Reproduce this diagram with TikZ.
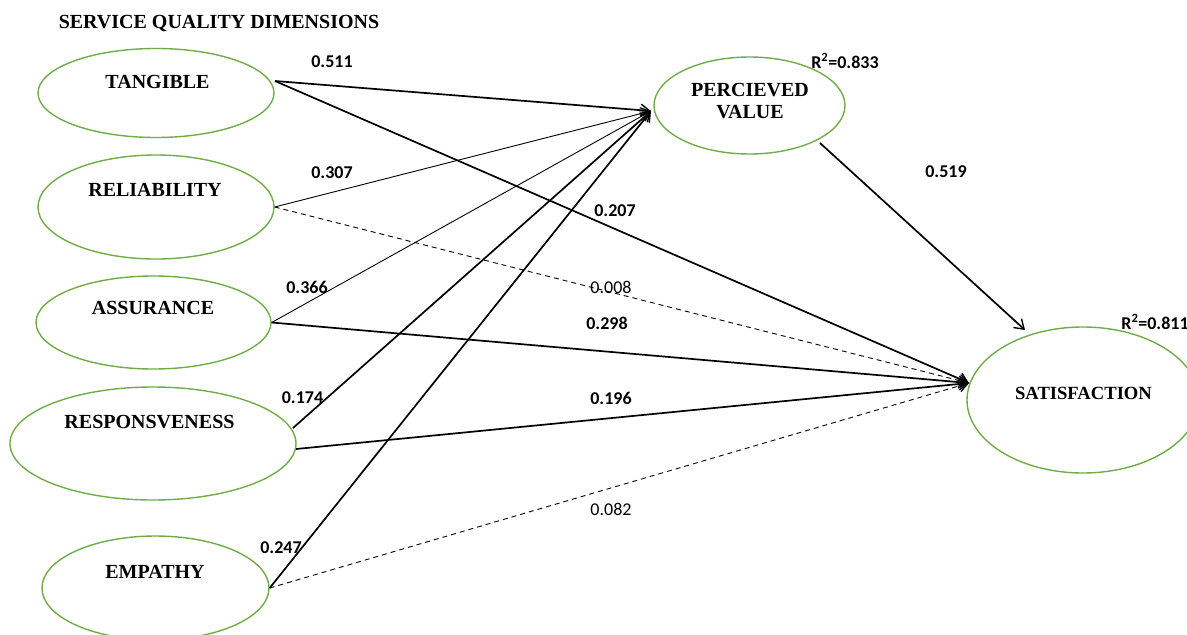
\documentclass[tikz,border=0pt]{standalone}
\usepackage{fontspec}
\setmainfont{Liberation Serif}
\newfontfamily\calib{Carlito}
\usetikzlibrary{shapes.geometric,arrows.meta}
\begin{document}
\begin{tikzpicture}[x=1pt,y=-1pt,
  latent/.style={ellipse,draw={rgb,255:red,112;green,173;blue,71},line width=1.4pt,inner sep=0pt},
  lbl/.style={font=\fontsize{20}{22}\selectfont\bfseries,inner sep=0pt,anchor=center},
  coef/.style={font=\calib\fontsize{18}{20}\selectfont\bfseries,inner sep=0pt,anchor=center},
  coefn/.style={font=\calib\fontsize{18}{20}\selectfont,inner sep=0pt,anchor=center},
  path1/.style={line width=1.7pt,-{Straight Barb[length=9pt,width=12pt,line width=1.4pt]}},
  path2/.style={line width=0.9pt,-{Straight Barb[length=9pt,width=12pt,line width=1.2pt]}},
  path3/.style={line width=0.9pt,dash pattern=on 5pt off 4pt,-{Straight Barb[length=9pt,width=12pt,line width=1.2pt]}}]
\useasboundingbox (0,0) rectangle (1187,635);
\fill[white] (0,0) rectangle (1187,635);
% ellipses
\node[latent,minimum width=236pt,minimum height=89pt] (tan) at (156,93) {};
\node[latent,minimum width=236pt,minimum height=104pt] (rel) at (156,207) {};
\node[latent,minimum width=235pt,minimum height=93pt] (ass) at (153.5,322.5) {};
\node[latent,minimum width=286pt,minimum height=113pt] (res) at (153,443.5) {};
\node[latent,minimum width=227pt,minimum height=104pt] (emp) at (155.5,588) {};
\node[latent,minimum width=191pt,minimum height=97pt] (pv) at (749.5,105.5) {};
\node[latent,minimum width=232pt,minimum height=146pt] (sat) at (1083,400) {};
% texts
\node[lbl] (title) at (219,23) {SERVICE QUALITY DIMENSIONS};
\node[lbl] (tanT) at (157.5,82) {TANGIBLE};
\node[lbl] (relT) at (155,190) {RELIABILITY};
\node[lbl] (assT) at (153,308) {ASSURANCE};
\node[lbl] (resT) at (149.5,422) {RESPONSVENESS};
\node[lbl] (empT) at (155,572) {EMPATHY};
\node[lbl] (pvT1) at (750,90) {PERCIEVED};
\node[lbl] (pvT2) at (750,112) {VALUE};
\node[lbl,font=\fontsize{18.6}{21}\selectfont\bfseries] (satT) at (1083.5,393) {SATISFACTION};
% connector end points
\coordinate (pvin) at (651,111);
\coordinate (satin) at (969,383);
\coordinate (tanout) at (275,81);
\coordinate (resoutA) at (293,428);
\coordinate (resoutB) at (296,449);
\coordinate (pvout) at (820,143);
\coordinate (satinB) at (1025,330);
% paths
\draw[path1] (tanout) -- (pvin);
\draw[path1] (tanout) -- (satin);
\draw[path2] (rel.east) -- (pvin);
\draw[path3] (rel.east) -- (satin);
\draw[path2] (ass.east) -- (pvin);
\draw[path1] (ass.east) -- (satin);
\draw[path1] (resoutA) -- (pvin);
\draw[path1] (resoutB) -- (satin);
\draw[path1] (emp.east) -- (pvin);
\draw[path3] (emp.east) -- (satin);
\draw[path1] (pvout) -- (satinB);
% coefficients
\node[coef] (c1) at (332,62) {0.511};
\node[coef] (c2) at (332,173) {0.307};
\node[coef] (c3) at (307,287) {0.366};
\node[coef] (c4) at (302.5,398) {0.174};
\node[coef] (c5) at (281,548) {0.247};
\node[coef] (c6) at (615,211) {0.207};
\node[coefn] (c7) at (611,287) {0.008};
\node[coef] (c8) at (607,323) {0.298};
\node[coef] (c9) at (611,398) {0.196};
\node[coefn] (c10) at (611,509) {0.082};
\node[coef] (c11) at (946,172) {0.519};
\node[coef] (r1) at (845,61) {R\textsuperscript{2}=0.833};
\node[coef] (r2) at (1155,322) {R\textsuperscript{2}=0.811};
\end{tikzpicture}
\end{document}
